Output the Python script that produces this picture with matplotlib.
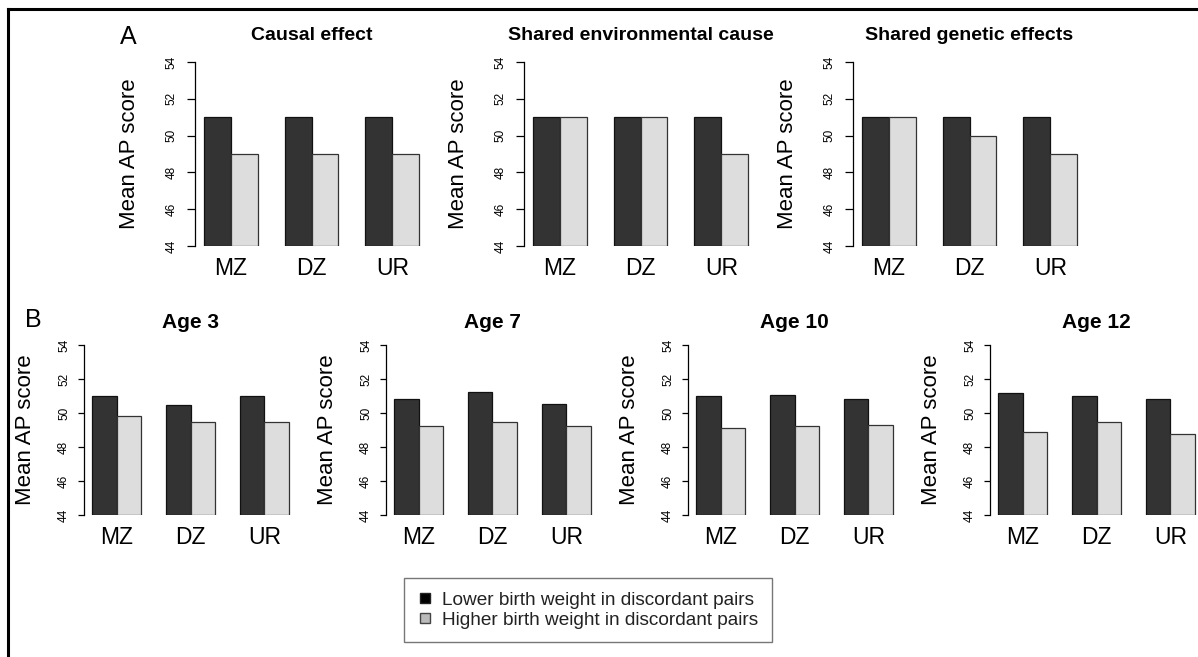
import numpy as np
import matplotlib.pyplot as plt
from matplotlib.lines import Line2D

plt.rcParams['font.family'] = ['Liberation Sans', 'DejaVu Sans']

groups = ['MZ', 'DZ', 'UR']

# panel A: hypothetical patterns
titles_a = ['Causal effect', 'Shared environmental cause', 'Shared genetic effects']
lower_a = [[51, 51, 51], [51, 51, 51], [51, 51, 51]]
higher_a = [[49, 49, 49], [51, 51, 49], [51, 50, 49]]

# panel B: observed means by age
titles_b = ['Age 3', 'Age 7', 'Age 10', 'Age 12']
lower_b = [[51.0, 50.45, 51.0], [50.85, 51.25, 50.55], [51.0, 51.05, 50.85], [51.15, 51.0, 50.8]]
higher_b = [[49.85, 49.45, 49.45], [49.25, 49.5, 49.25], [49.1, 49.25, 49.3], [48.9, 49.45, 48.75]]

legend_labels = ['Lower birth weight in discordant pairs', 'Higher birth weight in discordant pairs']
dark = '#333333'
light = '#dddddd'

W, H = 1198, 657
fig = plt.figure(figsize=(W / 100, H / 100), dpi=100)


def px_axes(left, top, width, height):
    return fig.add_axes([left / W, 1 - (top + height) / H, width / W, height / H])


def draw_panel(ax, low, high, title, tsize, tpad, ylab_x, ticklen, tickpad):
    x = np.arange(len(groups)) * 3 + 1
    ax.bar(x, np.array(low) - 44, bottom=44, width=1, align='edge',
           color=dark, edgecolor='#111111', linewidth=0.9)
    ax.bar(x + 1, np.array(high) - 44, bottom=44, width=1, align='edge',
           color=light, edgecolor='#333333', linewidth=0.9)
    ax.set_xlim(0.68, 9.32)
    ax.set_ylim(44, 54)
    ax.set_yticks([44, 46, 48, 50, 52, 54])
    ax.set_xticks(x + 1)
    ax.set_xticklabels(groups, fontsize=16.5)
    ax.tick_params(axis='x', length=0, pad=8)
    ax.tick_params(axis='y', length=ticklen, width=0.9, pad=tickpad, labelsize=8.5,
                   labelrotation=90)
    for lab in ax.get_yticklabels():
        lab.set_verticalalignment('center')
    for s in ['top', 'right', 'bottom']:
        ax.spines[s].set_visible(False)
    ax.spines['left'].set_linewidth(0.9)
    ax.set_ylabel('Mean AP score', fontsize=16)
    ax.yaxis.set_label_coords(ylab_x, 0.5)
    ax.set_title(title, fontsize=tsize, fontweight='bold', pad=tpad)
    ax.patch.set_alpha(0)


lefts_a = [195, 524, 853]
for i in range(3):
    ax = px_axes(lefts_a[i], 62, 233, 184)
    draw_panel(ax, lower_a[i], higher_a[i], titles_a[i], 14, 16, -0.236, 5.8, 6.5)

lefts_b = [84, 386, 688, 990]
for i in range(4):
    ax = px_axes(lefts_b[i], 345, 213, 170)
    draw_panel(ax, lower_b[i], higher_b[i], titles_b[i], 15, 12, -0.225, 4.5, 5.5)

fig.text(128 / W, 1 - 37 / H, 'A', fontsize=18, ha='center', va='center')
fig.text(33 / W, 1 - 320 / H, 'B', fontsize=18, ha='center', va='center')

# outer frame (left and top only)
fig.add_artist(Line2D([8 / W, 8 / W], [0, 1 - 9 / H], color='black', linewidth=2.2))
fig.add_artist(Line2D([8 / W, 1], [1 - 9 / H, 1 - 9 / H], color='black', linewidth=2.2))

handles = [Line2D([], [], linestyle='none', marker='s', markersize=7,
                  markerfacecolor='black', markeredgecolor='#222222'),
           Line2D([], [], linestyle='none', marker='s', markersize=7,
                  markerfacecolor='#bbbbbb', markeredgecolor='#444444')]
leg = fig.legend(handles, legend_labels, loc='center', bbox_to_anchor=(588 / W, 1 - 610 / H),
                 fontsize=13.7, frameon=True, fancybox=False, edgecolor='#555555',
                 handlelength=0.8, handletextpad=0.5, labelspacing=0.15, borderpad=0.7)
leg.get_frame().set_linewidth(1.0)
for t in leg.get_texts():
    t.set_color('#222222')

fig.savefig('out.png', dpi=100)
